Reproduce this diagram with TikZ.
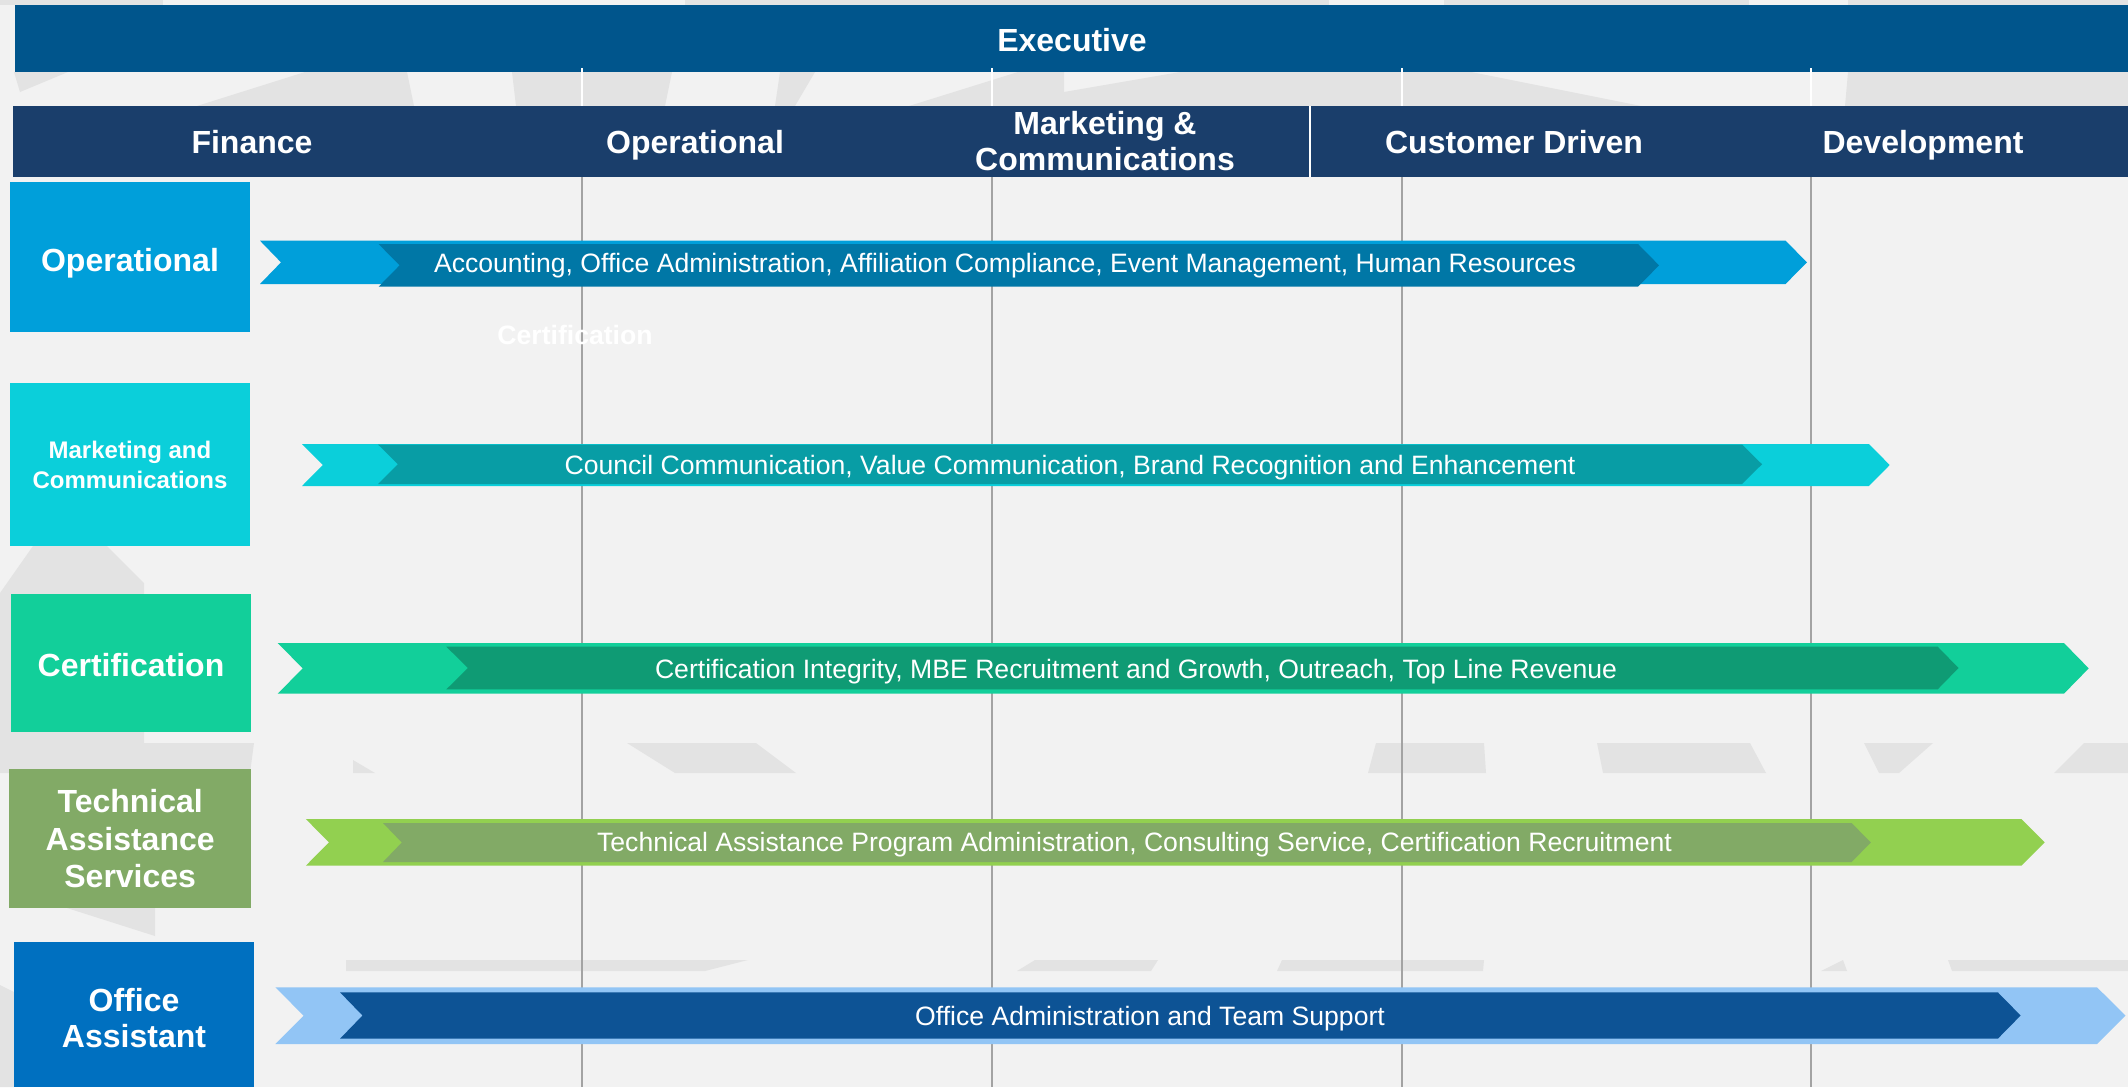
\documentclass[tikz,border=0pt]{standalone}
\usepackage{fontspec}
\setmainfont{Liberation Sans}
\definecolor{pagebg}{HTML}{F2F2F2}
\definecolor{markgray}{HTML}{E3E3E3}
\definecolor{execblue}{HTML}{00558C}
\definecolor{headnavy}{HTML}{1A3E6B}
\definecolor{gridgray}{HTML}{A3A3A3}
\definecolor{opLight}{HTML}{009FDA}
\definecolor{opDark}{HTML}{0077A6}
\definecolor{mkLight}{HTML}{0BCFDA}
\definecolor{mkDark}{HTML}{089DA5}
\definecolor{ceLight}{HTML}{12CF9A}
\definecolor{ceDark}{HTML}{0F9B74}
\definecolor{taLight}{HTML}{92D050}
\definecolor{taDark}{HTML}{82AA66}
\definecolor{ofBox}{HTML}{0070C0}
\definecolor{ofLight}{HTML}{92C5F5}
\definecolor{ofDark}{HTML}{0D5395}
% chevron band: colour, left x, notch x, shoulder x, tip x, top y, bottom y
\newcommand{\chevband}[7]{%
  \fill[#1] (#2,#6) -- (#4,#6) -- (#5,{(#6+#7)/2}) -- (#4,#7) -- (#2,#7)
    -- (#3,{(#6+#7)/2}) -- cycle;}
\begin{document}
\begin{tikzpicture}[x=0.5pt,y=-0.5pt,
  lanebox/.style={rectangle,inner sep=0pt,minimum width=120pt,text=white,align=center},
  lanelabel/.style={text=white,align=center,inner sep=0pt},
  headlabel/.style={text=white,inner sep=0pt,font=\bfseries\fontsize{16}{18}\selectfont,
    text height=11.5pt,text depth=0pt},
  bandtext/.style={text=white,inner sep=0pt,font=\fontsize{13.3}{15}\selectfont,
    text height=9.5pt,text depth=0pt},
  gridline/.style={draw=gridgray,line width=0.65pt},
  gapline/.style={draw=white,line width=0.6pt},
  emblem/.style={fill=markgray}]

% page
\useasboundingbox (0,0) rectangle (2128,1087);
\fill[pagebg] (0,0) rectangle (2128,1087);

% faint background emblem
\fill[emblem] (0,0) rectangle (163,5);
\fill[emblem] (685,0) rectangle (1329,5);
\fill[emblem] (1444,0) rectangle (1749,5);
\fill[emblem] (1848,0) rectangle (2128,5);
\fill[emblem] (14,72) -- (68,72) -- (20,92) -- cycle;
\fill[emblem] (197,106) -- (305,72) -- (407,72) -- (414,106) -- cycle;
\fill[emblem] (512,72) -- (672,72) -- (665,106) -- (516,106) -- cycle;
\fill[emblem] (780,72) -- (815,72) -- (795,106) -- (775,106) -- cycle;
\fill[emblem] (909,106) -- (1018,72) -- (1064,72) -- (1064,106) -- cycle;
\fill[emblem] (1064,106) -- (1064,92) -- (1180,72) -- (1471,72) -- (1641,106) -- cycle;
\fill[emblem] (1848,72) -- (2128,72) -- (2128,106) -- (1845,106) -- cycle;
\fill[emblem] (0,593) -- (33,546) -- (107,546) -- (144,583) -- (144,743) -- (0,743) -- cycle;
\fill[emblem] (0,743) -- (254,743) -- (250,773) -- (0,773) -- cycle;
\fill[emblem] (67,908) -- (155,908) -- (155,936) -- cycle;
\fill[emblem] (0,985) -- (14,992) -- (14,1087) -- (0,1087) -- cycle;
\fill[emblem] (353,760) -- (375,773) -- (353,773) -- cycle;
\fill[emblem] (627,743) -- (756,743) -- (796,773) -- (675,773) -- cycle;
\fill[emblem] (1376,743) -- (1484,743) -- (1486,773) -- (1368,773) -- cycle;
\fill[emblem] (1597,743) -- (1750,743) -- (1766,773) -- (1603,773) -- cycle;
\fill[emblem] (1864,743) -- (1933,743) -- (1899,773) -- (1879,773) -- cycle;
\fill[emblem] (2084,743) -- (2128,743) -- (2128,773) -- (2054,773) -- cycle;
\fill[emblem] (346,960) -- (748,960) -- (705,971) -- (346,971) -- cycle;
\fill[emblem] (1035,960) -- (1158,960) -- (1151,971) -- (1017,971) -- cycle;
\fill[emblem] (1282,960) -- (1484,960) -- (1483,971) -- (1277,971) -- cycle;
\fill[emblem] (1843,960) -- (1847,971) -- (1821,971) -- cycle;
\fill[emblem] (1948,960) -- (2128,960) -- (2128,971) -- (1952,971) -- cycle;

% column guides
\foreach \gx in {582,992,1402,1811} {
  \draw[gridline] (\gx,177) -- (\gx,1087);
}

% executive bar
\node[fill=execblue,minimum width=1056.5pt,minimum height=33.5pt,inner sep=0pt,anchor=north west]
  (execbar) at (15,5) {};
\node[headlabel] (exec) at (1072,40) {Executive};
\foreach \gx in {582,992,1402,1811} {
  \draw[gapline] (\gx,68) -- (\gx,106);
}

% function header
\node[fill=headnavy,minimum width=1057.5pt,minimum height=35.5pt,inner sep=0pt,anchor=north west]
  (headbar) at (13,106) {};
\draw[white,line width=0.6pt] (1310,106) -- (1310,177);
\node[headlabel] (hfin) at (252,142) {Finance};
\node[headlabel] (hops) at (695,142) {Operational};
\node[lanelabel,font=\bfseries\fontsize{16}{18}\selectfont] (hmkt) at (1105,141.5)
  {Marketing \&\\Communications};
\node[headlabel] (hcus) at (1514,142) {Customer Driven};
\node[headlabel] (hdev) at (1923,142) {Development};

% department boxes
\node[lanebox,fill=opLight,minimum height=75pt,font=\bfseries\fontsize{16}{18}\selectfont,
  text height=14.5pt,text depth=0pt]
  (dops) at (130,257) {Operational};
\node[lanebox,fill=mkLight,minimum height=81.5pt,font=\bfseries\fontsize{12}{15}\selectfont]
  (dmkt) at (130,464.5) {Marketing and\\Communications};
\node[lanebox,fill=ceLight,minimum height=69pt,font=\bfseries\fontsize{16}{18}\selectfont,
  text height=13.5pt,text depth=0pt]
  (dcer) at (131,663) {Certification};
\node[lanebox,fill=taDark,minimum width=121pt,minimum height=69.5pt,
  font=\bfseries\fontsize{16}{18.75}\selectfont]
  (dtas) at (130.2,838.7) {Technical\\Assistance\\Services};
\node[lanebox,fill=ofBox,minimum height=72.5pt,font=\bfseries\fontsize{16}{18.4}\selectfont]
  (doff) at (134,1014.5) {};
\node[lanelabel,font=\bfseries\fontsize{16}{18.4}\selectfont] (doffl) at (134,1018)
  {Office\\Assistant};

% stray label
\node[text=white,inner sep=0pt,font=\bfseries\fontsize{13.3}{15}\selectfont,
  text height=9.5pt,text depth=0pt] (certnote) at (575,335) {Certification};

% responsibility bands
\chevband{opLight}{260}{281}{1785.5}{1807}{240.7}{284}
\chevband{opDark}{378.6}{399.6}{1638}{1659}{244}{286.7}
\node[bandtext] (bops) at (1005,262.5)
  {Accounting, Office Administration, Affiliation Compliance, Event Management, Human Resources};

\chevband{mkLight}{302}{322.8}{1868.8}{1889.7}{444}{486}
\chevband{mkDark}{378}{397.8}{1742}{1762}{444.5}{484}
\node[bandtext] (bmkt) at (1070,465)
  {Council Communication, Value Communication, Brand Recognition and Enhancement};

\chevband{ceLight}{277.7}{302.7}{2063.9}{2088.7}{643}{693.7}
\chevband{ceDark}{446.4}{467.9}{1937.7}{1958.5}{646.7}{689.3}
\node[bandtext] (bcer) at (1136,668.5)
  {Certification Integrity, MBE Recruitment and Growth, Outreach, Top Line Revenue};

\chevband{taLight}{305.8}{329}{2021.4}{2044.7}{819}{865.7}
\chevband{taDark}{383}{401.8}{1851.6}{1870.8}{823}{862}
\node[bandtext] (btas) at (1134.5,842)
  {Technical Assistance Program Administration, Consulting Service, Certification Recruitment};

\chevband{ofLight}{275.4}{303.6}{2097}{2125.5}{987.3}{1044}
\chevband{ofDark}{340}{362.5}{1997.8}{2020.6}{992.3}{1038.7}
\node[bandtext] (boff) at (1150,1016)
  {Office Administration and Team Support};
\end{tikzpicture}
\end{document}
